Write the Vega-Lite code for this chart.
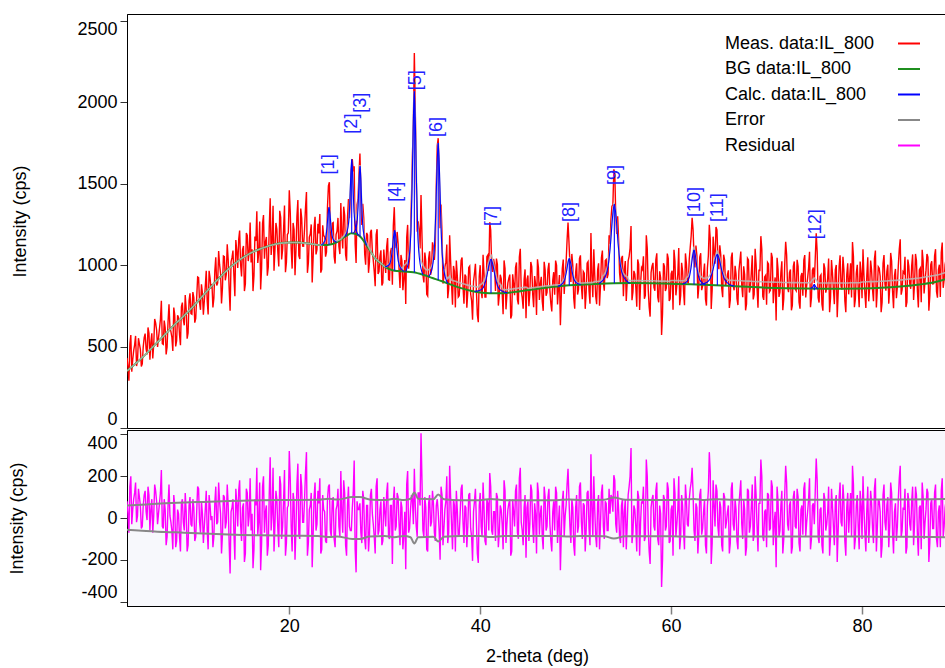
{
"$schema":"https://vega.github.io/schema/vega-lite/v6.json",
"background":"white",
"padding":{"left":7,"top":13,"right":0,"bottom":0},
"spacing":0,
"config":{"font":"Liberation Sans","view":{"stroke":"#000","strokeWidth":1},
"axis":{"labelFont":"Liberation Sans","titleFont":"Liberation Sans","labelFontSize":18,"titleFontSize":18,"titleFontWeight":"normal","labelColor":"#000","titleColor":"#000","domainColor":"#000","tickColor":"#333","grid":false,"tickSize":7,"labelPadding":3}},
"resolve":{"scale":{"color":"independent"},"legend":{"color":"independent"}},
"datasets":{
"xrd":[
{"t":3.0,"m":430,"r":80,"c":350},{"t":3.2,"m":290,"r":-70,"c":360},{"t":3.4,"m":570,"r":200,"c":370},{"t":3.6,"m":420,"r":40,"c":380},{"t":3.8,"m":510,"r":120,"c":390},
{"t":4.0,"m":380,"r":-20,"c":400},{"t":4.2,"m":551,"r":140,"c":411},{"t":4.4,"m":482,"r":60,"c":422},{"t":4.6,"m":393,"r":-40,"c":433},{"t":4.8,"m":554,"r":110,"c":444},
{"t":5.0,"m":485,"r":30,"c":455},{"t":5.2,"m":617,"r":150,"c":467},{"t":5.4,"m":419,"r":-60,"c":479},{"t":5.6,"m":581,"r":90,"c":491},{"t":5.8,"m":513,"r":10,"c":503},
{"t":6.0,"m":645,"r":130,"c":515},{"t":6.2,"m":497,"r":-30,"c":527},{"t":6.4,"m":609,"r":70,"c":539},{"t":6.6,"m":781,"r":230,"c":551},{"t":6.8,"m":513,"r":-50,"c":563},
{"t":7.0,"m":615,"r":40,"c":575},{"t":7.2,"m":497,"r":-90,"c":587},{"t":7.4,"m":759,"r":160,"c":599},{"t":7.6,"m":591,"r":-20,"c":611},{"t":7.8,"m":473,"r":-150,"c":623},
{"t":8.0,"m":695,"r":60,"c":635},{"t":8.2,"m":536,"r":-110,"c":646},{"t":8.4,"m":677,"r":20,"c":657},{"t":8.6,"m":508,"r":-160,"c":668},{"t":8.8,"m":769,"r":90,"c":679},
{"t":9.0,"m":630,"r":-60,"c":690},{"t":9.2,"m":732,"r":30,"c":702},{"t":9.4,"m":584,"r":-130,"c":714},{"t":9.6,"m":826,"r":100,"c":726},{"t":9.8,"m":698,"r":-40,"c":738},
{"t":10.0,"m":800,"r":50,"c":750},{"t":10.2,"m":673,"r":-90,"c":763},{"t":10.4,"m":926,"r":150,"c":776},{"t":10.6,"m":769,"r":-20,"c":789},{"t":10.8,"m":882,"r":80,"c":802},
{"t":11.0,"m":695,"r":-120,"c":815},{"t":11.2,"m":868,"r":40,"c":828},{"t":11.4,"m":781,"r":-60,"c":841},{"t":11.6,"m":964,"r":110,"c":854},{"t":11.8,"m":857,"r":-10,"c":867},
{"t":12.0,"m":740,"r":-140,"c":880},{"t":12.2,"m":962,"r":70,"c":892},{"t":12.4,"m":874,"r":-30,"c":904},{"t":12.6,"m":1086,"r":170,"c":916},{"t":12.8,"m":948,"r":20,"c":928},
{"t":13.0,"m":860,"r":-80,"c":940},{"t":13.2,"m":1051,"r":100,"c":951},{"t":13.4,"m":942,"r":-20,"c":962},{"t":13.6,"m":1033,"r":60,"c":973},{"t":13.8,"m":719,"r":-265,"c":984},
{"t":14.0,"m":1045,"r":50,"c":995},{"t":14.2,"m":934,"r":-70,"c":1004},{"t":14.4,"m":1153,"r":140,"c":1013},{"t":14.6,"m":982,"r":-40,"c":1022},{"t":14.8,"m":1211,"r":180,"c":1031},
{"t":15.0,"m":930,"r":-110,"c":1040},{"t":15.2,"m":1117,"r":70,"c":1047},{"t":15.4,"m":884,"r":-170,"c":1054},{"t":15.6,"m":1181,"r":120,"c":1061},{"t":15.8,"m":1078,"r":10,"c":1068},
{"t":16.0,"m":1015,"r":-60,"c":1075},{"t":16.2,"m":840,"r":-240,"c":1080},{"t":16.4,"m":1175,"r":90,"c":1085},{"t":16.6,"m":1330,"r":240,"c":1090},{"t":16.8,"m":1075,"r":-20,"c":1095},
{"t":17.0,"m":850,"r":-250,"c":1100},{"t":17.2,"m":1254,"r":150,"c":1104},{"t":17.4,"m":1038,"r":-70,"c":1108},{"t":17.6,"m":1172,"r":60,"c":1112},{"t":17.8,"m":986,"r":-130,"c":1116},
{"t":18.0,"m":1410,"r":290,"c":1120},{"t":18.2,"m":1143,"r":20,"c":1123},{"t":18.4,"m":965,"r":-160,"c":1125},{"t":18.6,"m":1258,"r":130,"c":1128},{"t":18.8,"m":1080,"r":-50,"c":1130},
{"t":19.0,"m":1333,"r":200,"c":1133},{"t":19.2,"m":1034,"r":-100,"c":1134},{"t":19.4,"m":1215,"r":80,"c":1135},{"t":19.6,"m":956,"r":-180,"c":1136},{"t":19.8,"m":1187,"r":50,"c":1137},
{"t":20.0,"m":1458,"r":320,"c":1138},{"t":20.2,"m":1098,"r":-40,"c":1138},{"t":20.4,"m":1258,"r":120,"c":1138},{"t":20.6,"m":938,"r":-200,"c":1138},{"t":20.8,"m":1298,"r":160,"c":1138},
{"t":21.0,"m":1058,"r":-80,"c":1138},{"t":21.2,"m":1347,"r":210,"c":1137},{"t":21.4,"m":1116,"r":-20,"c":1136},{"t":21.6,"m":1224,"r":90,"c":1134},{"t":21.8,"m":1448,"r":315,"c":1133},
{"t":22.0,"m":1012,"r":-120,"c":1132},{"t":22.2,"m":1190,"r":60,"c":1130},{"t":22.4,"m":893,"r":-235,"c":1128},{"t":22.6,"m":1227,"r":100,"c":1127},{"t":22.8,"m":1065,"r":-60,"c":1125},
{"t":23.0,"m":1253,"r":130,"c":1123},{"t":23.2,"m":1313,"r":190,"c":1123},{"t":23.4,"m":973,"r":-150,"c":1123},{"t":23.6,"m":1179,"r":40,"c":1139},{"t":23.8,"m":1051,"r":-110,"c":1161},
{"t":24.0,"m":1354,"r":90,"c":1264},{"t":24.2,"m":1508,"r":160,"c":1348},{"t":24.4,"m":1126,"r":-90,"c":1216},{"t":24.6,"m":1260,"r":100,"c":1160},{"t":24.8,"m":1009,"r":-140,"c":1149},
{"t":25.0,"m":1208,"r":60,"c":1148},{"t":25.2,"m":1113,"r":-40,"c":1153},{"t":25.4,"m":1381,"r":225,"c":1158},{"t":25.6,"m":1102,"r":-70,"c":1172},{"t":25.8,"m":1306,"r":120,"c":1186},
{"t":26.0,"m":1026,"r":-180,"c":1206},{"t":26.2,"m":1404,"r":150,"c":1254},{"t":26.4,"m":1413,"r":-60,"c":1473},{"t":26.6,"m":1650,"r":45,"c":1605},{"t":26.8,"m":1606,"r":275,"c":1331},
{"t":27.0,"m":1012,"r":-260,"c":1272},{"t":27.2,"m":1404,"r":40,"c":1364},{"t":27.4,"m":1684,"r":70,"c":1614},{"t":27.6,"m":1245,"r":-120,"c":1365},{"t":27.8,"m":1288,"r":90,"c":1198},
{"t":28.0,"m":1002,"r":-150,"c":1152},{"t":28.2,"m":1184,"r":60,"c":1124},{"t":28.4,"m":1020,"r":-80,"c":1100},{"t":28.6,"m":1216,"r":140,"c":1076},{"t":28.8,"m":1028,"r":-30,"c":1058},
{"t":29.0,"m":870,"r":-170,"c":1040},{"t":29.2,"m":1220,"r":190,"c":1030},{"t":29.4,"m":960,"r":-60,"c":1020},{"t":29.6,"m":1090,"r":80,"c":1010},{"t":29.8,"m":890,"r":-110,"c":1000},
{"t":30.0,"m":1020,"r":30,"c":990},{"t":30.2,"m":1110,"r":120,"c":990},{"t":30.4,"m":911,"r":-90,"c":1001},{"t":30.6,"m":1080,"r":60,"c":1020},{"t":30.8,"m":879,"r":-220,"c":1099},
{"t":31.0,"m":1355,"r":150,"c":1205},{"t":31.2,"m":1103,"r":-40,"c":1143},{"t":31.4,"m":1130,"r":100,"c":1030},{"t":31.6,"m":859,"r":-130,"c":989},{"t":31.8,"m":1026,"r":50,"c":976},
{"t":32.0,"m":917,"r":-80,"c":997},{"t":32.2,"m":761,"r":-245,"c":1006},{"t":32.4,"m":1246,"r":225,"c":1021},{"t":32.6,"m":1040,"r":-50,"c":1090},{"t":32.8,"m":1411,"r":110,"c":1301},
{"t":33.0,"m":1870,"r":-30,"c":1900},{"t":33.1,"m":2301,"r":235,"c":2066},{"t":33.2,"m":1957,"r":60,"c":1897},{"t":33.4,"m":1204,"r":-90,"c":1294},{"t":33.6,"m":1214,"r":120,"c":1094},
{"t":33.8,"m":1429,"r":405,"c":1024},{"t":34.0,"m":939,"r":-60,"c":999},{"t":34.2,"m":1077,"r":100,"c":977},{"t":34.4,"m":820,"r":-150,"c":970},{"t":34.6,"m":1041,"r":70,"c":971},
{"t":34.8,"m":940,"r":-40,"c":980},{"t":35.0,"m":1139,"r":130,"c":1009},{"t":35.2,"m":1031,"r":-70,"c":1101},{"t":35.4,"m":1493,"r":60,"c":1433},{"t":35.6,"m":1778,"r":30,"c":1748},
{"t":35.8,"m":1225,"r":-200,"c":1425},{"t":36.0,"m":1195,"r":110,"c":1085},{"t":36.2,"m":926,"r":-50,"c":976},{"t":36.4,"m":1016,"r":80,"c":936},{"t":36.6,"m":796,"r":-120,"c":916},
{"t":36.8,"m":1182,"r":250,"c":932},{"t":37.0,"m":878,"r":-30,"c":908},{"t":37.2,"m":994,"r":90,"c":904},{"t":37.4,"m":740,"r":-160,"c":900},{"t":37.6,"m":936,"r":40,"c":896},
{"t":37.8,"m":812,"r":-80,"c":892},{"t":38.0,"m":1028,"r":140,"c":888},{"t":38.2,"m":865,"r":-20,"c":885},{"t":38.4,"m":942,"r":60,"c":882},{"t":38.6,"m":738,"r":-140,"c":878},
{"t":38.8,"m":985,"r":110,"c":875},{"t":39.0,"m":822,"r":-50,"c":872},{"t":39.2,"m":665,"r":-205,"c":870},{"t":39.4,"m":948,"r":80,"c":868},{"t":39.6,"m":846,"r":-20,"c":866},
{"t":39.8,"m":649,"r":-215,"c":864},{"t":40.0,"m":999,"r":120,"c":879},{"t":40.2,"m":796,"r":-90,"c":886},{"t":40.4,"m":950,"r":50,"c":900},{"t":40.6,"m":804,"r":-130,"c":934},
{"t":40.8,"m":1061,"r":70,"c":991},{"t":41.0,"m":1263,"r":215,"c":1048},{"t":41.2,"m":999,"r":-60,"c":1059},{"t":41.4,"m":1037,"r":30,"c":1007},{"t":41.6,"m":840,"r":-110,"c":950},
{"t":41.8,"m":1004,"r":100,"c":904},{"t":42.0,"m":815,"r":-70,"c":885},{"t":42.2,"m":916,"r":40,"c":876},{"t":42.4,"m":698,"r":-150,"c":848},{"t":42.6,"m":978,"r":130,"c":848},
{"t":42.8,"m":819,"r":-30,"c":849},{"t":43.0,"m":920,"r":70,"c":850},{"t":43.2,"m":672,"r":-180,"c":852},{"t":43.4,"m":943,"r":90,"c":853},{"t":43.6,"m":815,"r":-40,"c":855},
{"t":43.8,"m":1016,"r":160,"c":856},{"t":44.0,"m":758,"r":-100,"c":858},{"t":44.2,"m":1100,"r":240,"c":860},{"t":44.4,"m":801,"r":-60,"c":861},{"t":44.6,"m":913,"r":50,"c":863},
{"t":44.8,"m":674,"r":-190,"c":864},{"t":45.0,"m":936,"r":80,"c":856},{"t":45.2,"m":828,"r":-30,"c":858},{"t":45.4,"m":990,"r":130,"c":860},{"t":45.6,"m":741,"r":-120,"c":861},
{"t":45.8,"m":883,"r":20,"c":863},{"t":46.0,"m":1035,"r":170,"c":865},{"t":46.2,"m":786,"r":-80,"c":866},{"t":46.4,"m":928,"r":60,"c":868},{"t":46.6,"m":719,"r":-150,"c":869},
{"t":46.8,"m":971,"r":100,"c":871},{"t":47.0,"m":832,"r":-40,"c":872},{"t":47.2,"m":1013,"r":140,"c":873},{"t":47.4,"m":764,"r":-110,"c":874},{"t":47.6,"m":906,"r":30,"c":876},
{"t":47.8,"m":817,"r":-60,"c":877},{"t":48.0,"m":998,"r":120,"c":878},{"t":48.2,"m":859,"r":-20,"c":879},{"t":48.4,"m":630,"r":-250,"c":880},{"t":48.6,"m":978,"r":80,"c":898},
{"t":48.8,"m":823,"r":-90,"c":913},{"t":49.0,"m":1018,"r":60,"c":958},{"t":49.2,"m":1260,"r":235,"c":1025},{"t":49.4,"m":1003,"r":-40,"c":1043},{"t":49.6,"m":1068,"r":90,"c":978},
{"t":49.8,"m":797,"r":-130,"c":927},{"t":50.0,"m":956,"r":50,"c":906},{"t":50.2,"m":819,"r":-70,"c":889},{"t":50.4,"m":1039,"r":150,"c":889},{"t":50.6,"m":870,"r":-20,"c":890},
{"t":50.8,"m":960,"r":70,"c":890},{"t":51.0,"m":731,"r":-160,"c":891},{"t":51.2,"m":1011,"r":120,"c":891},{"t":51.4,"m":842,"r":-50,"c":892},{"t":51.6,"m":1197,"r":305,"c":892},
{"t":51.8,"m":803,"r":-90,"c":893},{"t":52.0,"m":939,"r":40,"c":899},{"t":52.2,"m":759,"r":-140,"c":899},{"t":52.4,"m":1010,"r":110,"c":900},{"t":52.6,"m":870,"r":-30,"c":900},
{"t":52.8,"m":1089,"r":160,"c":929},{"t":53.0,"m":842,"r":-100,"c":942},{"t":53.2,"m":1034,"r":70,"c":964},{"t":53.4,"m":944,"r":-60,"c":1004},{"t":53.6,"m":1130,"r":20,"c":1110},
{"t":53.8,"m":1361,"r":100,"c":1261},{"t":54.0,"m":1587,"r":205,"c":1382},{"t":54.2,"m":1304,"r":-30,"c":1334},{"t":54.4,"m":1299,"r":130,"c":1169},{"t":54.6,"m":953,"r":-90,"c":1043},
{"t":54.8,"m":1040,"r":60,"c":980},{"t":55.0,"m":809,"r":-140,"c":949},{"t":55.2,"m":1024,"r":90,"c":934},{"t":55.4,"m":897,"r":-30,"c":927},{"t":55.6,"m":1053,"r":150,"c":903},
{"t":55.8,"m":1239,"r":335,"c":904},{"t":56.0,"m":834,"r":-70,"c":904},{"t":56.2,"m":944,"r":40,"c":904},{"t":56.4,"m":744,"r":-160,"c":904},{"t":56.6,"m":1004,"r":100,"c":904},
{"t":56.8,"m":884,"r":-20,"c":904},{"t":57.0,"m":973,"r":70,"c":903},{"t":57.2,"m":793,"r":-110,"c":903},{"t":57.4,"m":1183,"r":280,"c":903},{"t":57.6,"m":853,"r":-50,"c":903},
{"t":57.8,"m":683,"r":-220,"c":903},{"t":58.0,"m":993,"r":90,"c":903},{"t":58.2,"m":863,"r":-40,"c":903},{"t":58.4,"m":1032,"r":130,"c":902},{"t":58.6,"m":802,"r":-100,"c":902},
{"t":58.8,"m":961,"r":60,"c":901},{"t":59.0,"m":571,"r":-330,"c":901},{"t":59.2,"m":1011,"r":110,"c":901},{"t":59.4,"m":841,"r":-60,"c":901},{"t":59.6,"m":1070,"r":170,"c":900},
{"t":59.8,"m":780,"r":-120,"c":900},{"t":60.0,"m":945,"r":40,"c":905},{"t":60.2,"m":725,"r":-180,"c":905},{"t":60.4,"m":1024,"r":120,"c":904},{"t":60.6,"m":874,"r":-30,"c":904},
{"t":60.8,"m":1104,"r":200,"c":904},{"t":61.0,"m":813,"r":-90,"c":903},{"t":61.2,"m":963,"r":60,"c":903},{"t":61.4,"m":753,"r":-150,"c":903},{"t":61.6,"m":1010,"r":90,"c":920},
{"t":61.8,"m":892,"r":-40,"c":932},{"t":62.0,"m":1107,"r":140,"c":967},{"t":62.2,"m":1290,"r":240,"c":1050},{"t":62.4,"m":1052,"r":-60,"c":1112},{"t":62.6,"m":1119,"r":70,"c":1049},
{"t":62.8,"m":795,"r":-170,"c":965},{"t":63.0,"m":1048,"r":110,"c":938},{"t":63.2,"m":846,"r":-80,"c":926},{"t":63.4,"m":949,"r":30,"c":919},{"t":63.6,"m":790,"r":-130,"c":920},
{"t":63.8,"m":982,"r":60,"c":922},{"t":64.0,"m":1247,"r":315,"c":932},{"t":64.2,"m":730,"r":-220,"c":950},{"t":64.4,"m":1174,"r":180,"c":994},{"t":64.6,"m":1008,"r":-40,"c":1048},
{"t":64.8,"m":1216,"r":130,"c":1086},{"t":65.0,"m":974,"r":-90,"c":1064},{"t":65.2,"m":1063,"r":50,"c":1013},{"t":65.4,"m":802,"r":-160,"c":962},{"t":65.6,"m":1032,"r":100,"c":932},
{"t":65.8,"m":896,"r":-20,"c":916},{"t":66.0,"m":967,"r":60,"c":907},{"t":66.2,"m":786,"r":-120,"c":906},{"t":66.4,"m":1076,"r":170,"c":906},{"t":66.6,"m":845,"r":-60,"c":905},
{"t":66.8,"m":945,"r":40,"c":905},{"t":67.0,"m":754,"r":-150,"c":904},{"t":67.2,"m":1023,"r":120,"c":903},{"t":67.4,"m":873,"r":-30,"c":903},{"t":67.6,"m":992,"r":90,"c":902},
{"t":67.8,"m":722,"r":-180,"c":902},{"t":68.0,"m":1041,"r":140,"c":901},{"t":68.2,"m":831,"r":-70,"c":901},{"t":68.4,"m":950,"r":50,"c":900},{"t":68.6,"m":789,"r":-110,"c":899},
{"t":68.8,"m":1099,"r":200,"c":899},{"t":69.0,"m":858,"r":-40,"c":898},{"t":69.2,"m":968,"r":70,"c":898},{"t":69.4,"m":1177,"r":280,"c":897},{"t":69.6,"m":807,"r":-90,"c":897},
{"t":69.8,"m":926,"r":30,"c":896},{"t":70.0,"m":756,"r":-140,"c":896},{"t":70.2,"m":1006,"r":110,"c":896},{"t":70.4,"m":845,"r":-50,"c":895},{"t":70.6,"m":1045,"r":150,"c":895},
{"t":70.8,"m":875,"r":-20,"c":895},{"t":71.0,"m":659,"r":-235,"c":894},{"t":71.2,"m":974,"r":80,"c":894},{"t":71.4,"m":834,"r":-60,"c":894},{"t":71.6,"m":1023,"r":130,"c":893},
{"t":71.8,"m":793,"r":-100,"c":893},{"t":72.0,"m":1143,"r":250,"c":893},{"t":72.2,"m":863,"r":-30,"c":893},{"t":72.4,"m":953,"r":60,"c":893},{"t":72.6,"m":722,"r":-170,"c":892},
{"t":72.8,"m":992,"r":100,"c":892},{"t":73.0,"m":852,"r":-40,"c":892},{"t":73.2,"m":1032,"r":140,"c":892},{"t":73.4,"m":772,"r":-120,"c":892},{"t":73.6,"m":931,"r":40,"c":891},
{"t":73.8,"m":811,"r":-80,"c":891},{"t":74.0,"m":1061,"r":170,"c":891},{"t":74.2,"m":871,"r":-20,"c":891},{"t":74.4,"m":981,"r":90,"c":891},{"t":74.6,"m":741,"r":-150,"c":891},
{"t":74.8,"m":969,"r":60,"c":909},{"t":75.0,"m":890,"r":-30,"c":920},{"t":75.2,"m":1194,"r":285,"c":909},{"t":75.4,"m":800,"r":-90,"c":890},{"t":75.6,"m":930,"r":40,"c":890},
{"t":75.8,"m":760,"r":-130,"c":890},{"t":76.0,"m":1010,"r":120,"c":890},{"t":76.2,"m":830,"r":-60,"c":890},{"t":76.4,"m":920,"r":30,"c":890},{"t":76.6,"m":710,"r":-180,"c":890},
{"t":76.8,"m":1030,"r":140,"c":890},{"t":77.0,"m":850,"r":-40,"c":890},{"t":77.2,"m":970,"r":80,"c":890},{"t":77.4,"m":680,"r":-210,"c":890},{"t":77.6,"m":990,"r":100,"c":890},
{"t":77.8,"m":870,"r":-20,"c":890},{"t":78.0,"m":1050,"r":160,"c":890},{"t":78.2,"m":780,"r":-110,"c":890},{"t":78.4,"m":940,"r":50,"c":890},{"t":78.6,"m":820,"r":-70,"c":890},
{"t":78.8,"m":1011,"r":120,"c":891},{"t":79.0,"m":1141,"r":250,"c":891},{"t":79.2,"m":741,"r":-150,"c":891},{"t":79.4,"m":951,"r":60,"c":891},{"t":79.6,"m":851,"r":-40,"c":891},
{"t":79.8,"m":1021,"r":130,"c":891},{"t":80.0,"m":796,"r":-100,"c":896},{"t":80.2,"m":936,"r":40,"c":896},{"t":80.4,"m":737,"r":-160,"c":897},{"t":80.6,"m":1047,"r":150,"c":897},
{"t":80.8,"m":868,"r":-30,"c":898},{"t":81.0,"m":968,"r":70,"c":898},{"t":81.2,"m":778,"r":-120,"c":898},{"t":81.4,"m":1089,"r":190,"c":899},{"t":81.6,"m":849,"r":-50,"c":899},
{"t":81.8,"m":980,"r":80,"c":900},{"t":82.0,"m":710,"r":-190,"c":900},{"t":82.2,"m":1011,"r":110,"c":901},{"t":82.4,"m":882,"r":-20,"c":902},{"t":82.6,"m":962,"r":60,"c":902},
{"t":82.8,"m":763,"r":-140,"c":903},{"t":83.0,"m":1074,"r":170,"c":904},{"t":83.2,"m":835,"r":-70,"c":905},{"t":83.4,"m":936,"r":30,"c":906},{"t":83.6,"m":796,"r":-110,"c":906},
{"t":83.8,"m":997,"r":90,"c":907},{"t":84.0,"m":1158,"r":250,"c":908},{"t":84.2,"m":849,"r":-60,"c":909},{"t":84.4,"m":950,"r":40,"c":910},{"t":84.6,"m":742,"r":-170,"c":912},
{"t":84.8,"m":1033,"r":120,"c":913},{"t":85.0,"m":884,"r":-30,"c":914},{"t":85.2,"m":995,"r":80,"c":915},{"t":85.4,"m":786,"r":-130,"c":916},{"t":85.6,"m":1068,"r":150,"c":918},
{"t":85.8,"m":839,"r":-80,"c":919},{"t":86.0,"m":970,"r":50,"c":920},{"t":86.2,"m":772,"r":-150,"c":922},{"t":86.4,"m":1024,"r":100,"c":924},{"t":86.6,"m":906,"r":-20,"c":926},
{"t":86.8,"m":1068,"r":140,"c":928},{"t":87.0,"m":720,"r":-210,"c":930},{"t":87.2,"m":1002,"r":70,"c":932},{"t":87.4,"m":884,"r":-50,"c":934},{"t":87.6,"m":1056,"r":120,"c":936},
{"t":87.8,"m":838,"r":-100,"c":938},{"t":88.0,"m":970,"r":30,"c":940},{"t":88.2,"m":804,"r":-140,"c":944},{"t":88.4,"m":1138,"r":190,"c":948},{"t":88.6,"m":911,"r":-40,"c":951},
{"t":88.8,"m":1035,"r":80,"c":955},
{"t":3.1,"m":375,"r":20},{"t":3.3,"m":515,"r":150},{"t":3.5,"m":345,"r":-30},{"t":3.7,"m":475,"r":90},{"t":3.9,"m":565,"r":170},{"t":4.1,"m":415,"r":10},{"t":4.3,"m":516,"r":100},{"t":4.5,"m":377,"r":-50},{"t":4.7,"m":498,"r":60},{"t":4.9,"m":579,"r":130},
{"t":5.1,"m":451,"r":-10},{"t":5.3,"m":583,"r":110},{"t":5.5,"m":525,"r":40},{"t":5.7,"m":427,"r":-70},{"t":5.9,"m":669,"r":160},{"t":6.1,"m":601,"r":80},{"t":6.3,"m":553,"r":20},{"t":6.5,"m":665,"r":120},{"t":6.7,"m":517,"r":-40},{"t":6.9,"m":659,"r":90},
{"t":7.1,"m":451,"r":-130},{"t":7.3,"m":653,"r":60},{"t":7.5,"m":615,"r":10},{"t":7.7,"m":557,"r":-60},{"t":7.9,"m":739,"r":110},{"t":8.1,"m":500,"r":-140},{"t":8.3,"m":691,"r":40},{"t":8.5,"m":572,"r":-90},{"t":8.7,"m":743,"r":70},{"t":8.9,"m":664,"r":-20},
{"t":9.1,"m":816,"r":120},{"t":9.3,"m":548,"r":-160},{"t":9.5,"m":780,"r":60},{"t":9.7,"m":702,"r":-30},{"t":9.9,"m":834,"r":90},{"t":10.1,"m":646,"r":-110},{"t":10.3,"m":799,"r":30},{"t":10.5,"m":922,"r":140},{"t":10.7,"m":725,"r":-70},{"t":10.9,"m":828,"r":20},
{"t":11.1,"m":781,"r":-40},{"t":11.3,"m":964,"r":130},{"t":11.5,"m":697,"r":-150},{"t":11.7,"m":920,"r":60},{"t":11.9,"m":883,"r":10},{"t":12.1,"m":796,"r":-90},{"t":12.3,"m":1048,"r":150},{"t":12.5,"m":890,"r":-20},{"t":12.7,"m":1002,"r":80},{"t":12.9,"m":764,"r":-170},
{"t":13.1,"m":1055,"r":110},{"t":13.3,"m":906,"r":-50},{"t":13.5,"m":1127,"r":160},{"t":13.7,"m":858,"r":-120},{"t":13.9,"m":1019,"r":30},{"t":14.1,"m":1089,"r":90},{"t":14.3,"m":808,"r":-200},{"t":14.5,"m":1087,"r":70},{"t":14.7,"m":1156,"r":130},{"t":14.9,"m":1005,"r":-30},
{"t":15.1,"m":1093,"r":50},{"t":15.3,"m":840,"r":-210},{"t":15.5,"m":1197,"r":140},{"t":15.7,"m":1024,"r":-40},{"t":15.9,"m":1261,"r":190},{"t":16.1,"m":1097,"r":20},{"t":16.3,"m":932,"r":-150},{"t":16.5,"m":1147,"r":60},{"t":16.7,"m":1012,"r":-80},{"t":16.9,"m":1267,"r":170},
{"t":17.1,"m":982,"r":-120},{"t":17.3,"m":1306,"r":200},{"t":17.5,"m":1140,"r":30},{"t":17.7,"m":934,"r":-180},{"t":17.9,"m":1228,"r":110},{"t":18.1,"m":1061,"r":-60},{"t":18.3,"m":1364,"r":240},{"t":18.5,"m":1096,"r":-30},{"t":18.7,"m":1219,"r":90},{"t":18.9,"m":991,"r":-140},
{"t":19.1,"m":1293,"r":160},{"t":19.3,"m":1094,"r":-40},{"t":19.5,"m":1365,"r":230},{"t":19.7,"m":1016,"r":-120},{"t":19.9,"m":1197,"r":60},{"t":20.1,"m":1328,"r":190},{"t":20.3,"m":978,"r":-160},{"t":20.5,"m":1218,"r":80},{"t":20.7,"m":1088,"r":-50},{"t":20.9,"m":1398,"r":260},
{"t":21.1,"m":1037,"r":-100},{"t":21.3,"m":1286,"r":150},{"t":21.5,"m":1115,"r":-20},{"t":21.7,"m":1353,"r":220},{"t":21.9,"m":952,"r":-180},{"t":22.1,"m":1171,"r":40},{"t":22.3,"m":1249,"r":120},{"t":22.5,"m":1047,"r":-80},{"t":22.7,"m":1296,"r":170},{"t":22.9,"m":1094,"r":-30},
{"t":23.1,"m":1193,"r":70},{"t":23.3,"m":953,"r":-170},{"t":23.5,"m":1244,"r":110},{"t":23.7,"m":1176,"r":30},{"t":23.9,"m":1080,"r":-120},{"t":24.1,"m":1486,"r":150},{"t":24.3,"m":1226,"r":-60},{"t":24.5,"m":1255,"r":80},{"t":24.7,"m":1051,"r":-100},{"t":24.9,"m":1187,"r":40},
{"t":25.1,"m":1289,"r":140},{"t":25.3,"m":1067,"r":-90},{"t":25.5,"m":1196,"r":30},{"t":25.7,"m":1358,"r":180},{"t":25.9,"m":1064,"r":-130},{"t":26.1,"m":1289,"r":60},{"t":26.3,"m":1287,"r":-40},{"t":26.5,"m":1579,"r":-60},{"t":26.7,"m":1574,"r":120},{"t":26.9,"m":1131,"r":-150},
{"t":27.1,"m":1369,"r":80},{"t":27.3,"m":1556,"r":40},{"t":27.5,"m":1459,"r":-70},{"t":27.7,"m":1375,"r":130},{"t":27.9,"m":1068,"r":-100},{"t":28.1,"m":1197,"r":60},{"t":28.3,"m":952,"r":-160},{"t":28.5,"m":1200,"r":110},{"t":28.7,"m":1087,"r":20},{"t":28.9,"m":959,"r":-90},
{"t":29.1,"m":1185,"r":150},{"t":29.3,"m":945,"r":-80},{"t":29.5,"m":1055,"r":40},{"t":29.7,"m":875,"r":-130},{"t":29.9,"m":1095,"r":100},{"t":30.1,"m":951,"r":-40},{"t":30.3,"m":1165,"r":170},{"t":30.5,"m":908,"r":-100},{"t":30.7,"m":1105,"r":60},{"t":30.9,"m":1244,"r":80},
{"t":31.1,"m":1141,"r":-60},{"t":31.3,"m":1203,"r":120},{"t":31.5,"m":973,"r":-30},{"t":31.7,"m":1062,"r":80},{"t":31.9,"m":845,"r":-150},{"t":32.1,"m":1031,"r":30},{"t":32.3,"m":1169,"r":160},{"t":32.5,"m":977,"r":-70},{"t":32.7,"m":1197,"r":40},{"t":32.9,"m":1669,"r":90},
{"t":33.3,"m":1534,"r":-40},{"t":33.5,"m":1268,"r":120},{"t":33.7,"m":1102,"r":60},{"t":33.9,"m":1182,"r":180},{"t":34.1,"m":893,"r":-90},{"t":34.3,"m":1023,"r":50},{"t":34.5,"m":810,"r":-160},{"t":34.7,"m":1084,"r":110},{"t":34.9,"m":967,"r":-20},
{"t":35.1,"m":1114,"r":70},{"t":35.3,"m":1123,"r":-110},{"t":35.5,"m":1731,"r":90},{"t":35.7,"m":1577,"r":-60},{"t":35.9,"m":1371,"r":150},{"t":36.1,"m":886,"r":-130},{"t":36.3,"m":988,"r":40},{"t":36.5,"m":1125,"r":200},{"t":36.7,"m":853,"r":-70},{"t":36.9,"m":1027,"r":100},
{"t":37.1,"m":756,"r":-150},{"t":37.3,"m":962,"r":60},{"t":37.5,"m":1028,"r":130},{"t":37.7,"m":804,"r":-90},{"t":37.9,"m":910,"r":20},{"t":38.1,"m":1046,"r":160},{"t":38.3,"m":763,"r":-120},{"t":38.5,"m":930,"r":50},{"t":38.7,"m":836,"r":-40},{"t":38.9,"m":993,"r":120},
{"t":39.1,"m":781,"r":-90},{"t":39.3,"m":899,"r":30},{"t":39.5,"m":1007,"r":140},{"t":39.7,"m":695,"r":-170},{"t":39.9,"m":931,"r":60},{"t":40.1,"m":842,"r":-40},{"t":40.3,"m":1063,"r":170},{"t":40.5,"m":804,"r":-110},{"t":40.7,"m":1051,"r":90},{"t":40.9,"m":964,"r":-60},
{"t":41.1,"m":1215,"r":150},{"t":41.3,"m":958,"r":-80},{"t":41.5,"m":1002,"r":30},{"t":41.7,"m":1040,"r":120},{"t":41.9,"m":751,"r":-140},{"t":42.1,"m":940,"r":60},{"t":42.3,"m":830,"r":-30},{"t":42.5,"m":1028,"r":180},{"t":42.7,"m":728,"r":-120},{"t":42.9,"m":890,"r":40},
{"t":43.1,"m":941,"r":90},{"t":43.3,"m":692,"r":-160},{"t":43.5,"m":884,"r":30},{"t":43.7,"m":985,"r":130},{"t":43.9,"m":787,"r":-70},{"t":44.1,"m":1049,"r":190},{"t":44.3,"m":840,"r":-20},{"t":44.5,"m":732,"r":-130},{"t":44.7,"m":973,"r":110},{"t":44.9,"m":910,"r":50},
{"t":45.1,"m":747,"r":-110},{"t":45.3,"m":1019,"r":160},{"t":45.5,"m":820,"r":-40},{"t":45.7,"m":932,"r":70},{"t":45.9,"m":694,"r":-170},{"t":46.1,"m":985,"r":120},{"t":46.3,"m":887,"r":20},{"t":46.5,"m":778,"r":-90},{"t":46.7,"m":1020,"r":150},{"t":46.9,"m":811,"r":-60},
{"t":47.1,"m":972,"r":100},{"t":47.3,"m":843,"r":-30},{"t":47.5,"m":715,"r":-160},{"t":47.7,"m":956,"r":80},{"t":47.9,"m":1027,"r":150},{"t":48.1,"m":758,"r":-120},{"t":48.3,"m":939,"r":60},{"t":48.5,"m":822,"r":-70},{"t":48.7,"m":1033,"r":130},{"t":48.9,"m":938,"r":10},
{"t":49.1,"m":1151,"r":160},{"t":49.3,"m":1140,"r":90},{"t":49.5,"m":896,"r":-120},{"t":49.7,"m":996,"r":50},{"t":49.9,"m":732,"r":-180},{"t":50.1,"m":1011,"r":110},{"t":50.3,"m":849,"r":-40},{"t":50.5,"m":1059,"r":170},{"t":50.7,"m":790,"r":-100},{"t":50.9,"m":950,"r":60},
{"t":51.1,"m":831,"r":-60},{"t":51.3,"m":1021,"r":130},{"t":51.5,"m":762,"r":-130},{"t":51.7,"m":932,"r":40},{"t":51.9,"m":1096,"r":200},{"t":52.1,"m":809,"r":-90},{"t":52.3,"m":969,"r":70},{"t":52.5,"m":750,"r":-150},{"t":52.7,"m":1044,"r":120},{"t":52.9,"m":892,"r":-40},
{"t":53.1,"m":1027,"r":80},{"t":53.3,"m":919,"r":-60},{"t":53.5,"m":1182,"r":140},{"t":53.7,"m":1283,"r":110},{"t":53.9,"m":1369,"r":30},{"t":54.1,"m":1562,"r":180},{"t":54.3,"m":1191,"r":-70},{"t":54.5,"m":1151,"r":40},{"t":54.7,"m":885,"r":-120},{"t":54.9,"m":1056,"r":90},
{"t":55.1,"m":971,"r":30},{"t":55.3,"m":780,"r":-150},{"t":55.5,"m":1025,"r":110},{"t":55.7,"m":1104,"r":200},{"t":55.9,"m":784,"r":-120},{"t":56.1,"m":964,"r":60},{"t":56.3,"m":864,"r":-40},{"t":56.5,"m":1034,"r":130},{"t":56.7,"m":724,"r":-180},{"t":56.9,"m":984,"r":80},
{"t":57.1,"m":1053,"r":150},{"t":57.3,"m":813,"r":-90},{"t":57.5,"m":1103,"r":200},{"t":57.7,"m":743,"r":-160},{"t":57.9,"m":953,"r":50},{"t":58.1,"m":1013,"r":110},{"t":58.3,"m":842,"r":-60},{"t":58.5,"m":1072,"r":170},{"t":58.7,"m":771,"r":-130},{"t":58.9,"m":921,"r":20},
{"t":59.1,"m":701,"r":-200},{"t":59.3,"m":991,"r":90},{"t":59.5,"m":860,"r":-40},{"t":59.7,"m":1040,"r":140},{"t":59.9,"m":792,"r":-110},{"t":60.1,"m":965,"r":60},{"t":60.3,"m":1094,"r":190},{"t":60.5,"m":814,"r":-90},{"t":60.7,"m":944,"r":40},{"t":60.9,"m":753,"r":-150},
{"t":61.1,"m":1013,"r":110},{"t":61.3,"m":843,"r":-60},{"t":61.5,"m":1071,"r":160},{"t":61.7,"m":895,"r":-30},{"t":61.9,"m":1036,"r":90},{"t":62.1,"m":1178,"r":170},{"t":62.3,"m":1216,"r":120},{"t":62.5,"m":985,"r":-110},{"t":62.7,"m":1056,"r":50},{"t":62.9,"m":864,"r":-80},
{"t":63.1,"m":1072,"r":140},{"t":63.3,"m":872,"r":-50},{"t":63.5,"m":1009,"r":90},{"t":63.7,"m":751,"r":-170},{"t":63.9,"m":1057,"r":130},{"t":64.1,"m":1160,"r":220},{"t":64.3,"m":849,"r":-120},{"t":64.5,"m":1080,"r":60},{"t":64.7,"m":1233,"r":160},{"t":64.9,"m":1043,"r":-40},
{"t":65.1,"m":1121,"r":80},{"t":65.3,"m":857,"r":-130},{"t":65.5,"m":1063,"r":120},{"t":65.7,"m":872,"r":-50},{"t":65.9,"m":941,"r":30},{"t":66.1,"m":736,"r":-170},{"t":66.3,"m":1046,"r":140},{"t":66.5,"m":875,"r":-30},{"t":66.7,"m":995,"r":90},{"t":66.9,"m":794,"r":-110},
{"t":67.1,"m":963,"r":60},{"t":67.3,"m":1083,"r":180},{"t":67.5,"m":802,"r":-100},{"t":67.7,"m":942,"r":40},{"t":67.9,"m":761,"r":-140},{"t":68.1,"m":1031,"r":130},{"t":68.3,"m":860,"r":-40},{"t":68.5,"m":1059,"r":160},{"t":68.7,"m":819,"r":-80},{"t":68.9,"m":1008,"r":110},
{"t":69.1,"m":738,"r":-160},{"t":69.3,"m":967,"r":70},{"t":69.5,"m":1097,"r":200},{"t":69.7,"m":786,"r":-110},{"t":69.9,"m":936,"r":40},{"t":70.1,"m":1016,"r":120},{"t":70.3,"m":835,"r":-60},{"t":70.5,"m":1075,"r":180},{"t":70.7,"m":765,"r":-130},{"t":70.9,"m":924,"r":30},
{"t":71.1,"m":1044,"r":150},{"t":71.3,"m":804,"r":-90},{"t":71.5,"m":953,"r":60},{"t":71.7,"m":723,"r":-170},{"t":71.9,"m":1003,"r":110},{"t":72.1,"m":1063,"r":170},{"t":72.3,"m":833,"r":-60},{"t":72.5,"m":973,"r":80},{"t":72.7,"m":752,"r":-140},{"t":72.9,"m":1022,"r":130},
{"t":73.1,"m":842,"r":-50},{"t":73.3,"m":992,"r":100},{"t":73.5,"m":732,"r":-160},{"t":73.7,"m":951,"r":60},{"t":73.9,"m":1031,"r":140},{"t":74.1,"m":801,"r":-90},{"t":74.3,"m":921,"r":30},{"t":74.5,"m":1081,"r":190},{"t":74.7,"m":800,"r":-100},{"t":74.9,"m":985,"r":70},
{"t":75.1,"m":1045,"r":130},{"t":75.3,"m":1080,"r":180},{"t":75.5,"m":770,"r":-120},{"t":75.7,"m":940,"r":50},{"t":75.9,"m":720,"r":-170},{"t":76.1,"m":980,"r":90},{"t":76.3,"m":860,"r":-30},{"t":76.5,"m":1040,"r":150},{"t":76.7,"m":800,"r":-90},{"t":76.9,"m":950,"r":60},
{"t":77.1,"m":760,"r":-130},{"t":77.3,"m":1000,"r":110},{"t":77.5,"m":830,"r":-60},{"t":77.7,"m":1060,"r":170},{"t":77.9,"m":850,"r":-40},{"t":78.1,"m":970,"r":80},{"t":78.3,"m":710,"r":-180},{"t":78.5,"m":1010,"r":120},{"t":78.7,"m":920,"r":30},{"t":78.9,"m":801,"r":-90},
{"t":79.1,"m":1051,"r":160},{"t":79.3,"m":791,"r":-100},{"t":79.5,"m":1001,"r":110},{"t":79.7,"m":741,"r":-150},{"t":79.9,"m":951,"r":60},{"t":80.1,"m":1096,"r":200},{"t":80.3,"m":826,"r":-70},{"t":80.5,"m":937,"r":40},{"t":80.7,"m":777,"r":-120},{"t":80.9,"m":1028,"r":130},
{"t":81.1,"m":848,"r":-50},{"t":81.3,"m":1038,"r":140},{"t":81.5,"m":739,"r":-160},{"t":81.7,"m":989,"r":90},{"t":81.9,"m":930,"r":30},{"t":82.1,"m":770,"r":-130},{"t":82.3,"m":1061,"r":160},{"t":82.5,"m":842,"r":-60},{"t":82.7,"m":1002,"r":100},{"t":82.9,"m":863,"r":-40},
{"t":83.1,"m":1024,"r":120},{"t":83.3,"m":735,"r":-170},{"t":83.5,"m":976,"r":70},{"t":83.7,"m":866,"r":-40},{"t":83.9,"m":1097,"r":190},{"t":84.1,"m":818,"r":-90},{"t":84.3,"m":959,"r":50},{"t":84.5,"m":1051,"r":140},{"t":84.7,"m":772,"r":-140},{"t":84.9,"m":993,"r":80},
{"t":85.1,"m":854,"r":-60},{"t":85.3,"m":1065,"r":150},{"t":85.5,"m":887,"r":-30},{"t":85.7,"m":1028,"r":110},{"t":85.9,"m":739,"r":-180},{"t":86.1,"m":981,"r":60},{"t":86.3,"m":1093,"r":170},{"t":86.5,"m":825,"r":-100},{"t":86.7,"m":967,"r":40},{"t":86.9,"m":1049,"r":120},
{"t":87.1,"m":811,"r":-120},{"t":87.3,"m":1023,"r":90},{"t":87.5,"m":885,"r":-50},{"t":87.7,"m":1097,"r":160},{"t":87.9,"m":799,"r":-140},{"t":88.1,"m":1002,"r":60},{"t":88.3,"m":1076,"r":130},{"t":88.5,"m":860,"r":-90},{"t":88.7,"m":1003,"r":50}
],
"bg":[
{"t":3,"b":350},{"t":4,"b":400},{"t":5,"b":455},{"t":6,"b":515},{"t":7,"b":575},{"t":8,"b":635},{"t":9,"b":690},{"t":10,"b":750},{"t":11,"b":815},{"t":12,"b":880},{"t":13,"b":940},{"t":14,"b":995},{"t":15,"b":1040},{"t":16,"b":1075},{"t":17,"b":1100},{"t":18,"b":1120},{"t":19,"b":1133},{"t":20,"b":1138},{"t":21,"b":1138},{"t":22,"b":1132},{"t":23,"b":1123},{"t":24,"b":1122},{"t":25,"b":1140},{"t":25.5,"b":1160},{"t":26,"b":1180},{"t":26.5,"b":1195},{"t":27,"b":1190},{"t":27.5,"b":1170},{"t":28,"b":1130},{"t":28.5,"b":1085},{"t":29,"b":1040},{"t":29.5,"b":1015},{"t":30,"b":990},{"t":31,"b":965},{"t":32,"b":960},{"t":33,"b":955},{"t":34,"b":940},{"t":35,"b":920},{"t":36,"b":900},{"t":37,"b":878},{"t":38,"b":858},{"t":39,"b":842},{"t":40,"b":832},{"t":41,"b":827},{"t":42,"b":826},{"t":43,"b":830},{"t":44,"b":838},{"t":45,"b":846},{"t":46,"b":855},{"t":47,"b":862},{"t":48,"b":868},{"t":49,"b":874},{"t":50,"b":878},{"t":52,"b":884},{"t":54,"b":888},{"t":56,"b":889},{"t":58,"b":888},{"t":60,"b":885},{"t":62,"b":882},{"t":64,"b":878},{"t":66,"b":872},{"t":68,"b":866},{"t":70,"b":861},{"t":72,"b":858},{"t":74,"b":856},{"t":76,"b":855},{"t":78,"b":855},{"t":80,"b":856},{"t":82,"b":860},{"t":84,"b":868},{"t":86,"b":880},{"t":88,"b":900},{"t":88.8,"b":915}
],
"peaks":[
{"p":1,"t":23.36,"v":1123},{"p":1,"t":23.68,"v":1142},{"p":1,"t":23.84,"v":1174},{"p":1,"t":23.96,"v":1237},{"p":1,"t":24.06,"v":1311},{"p":1,"t":24.16,"v":1354},{"p":1,"t":24.26,"v":1315},{"p":1,"t":24.36,"v":1243},{"p":1,"t":24.48,"v":1182},{"p":1,"t":24.64,"v":1153},{"p":1,"t":24.96,"v":1139},
{"p":2,"t":25.84,"v":1174},{"p":2,"t":26.12,"v":1222},{"p":2,"t":26.26,"v":1290},{"p":2,"t":26.365,"v":1418},{"p":2,"t":26.45,"v":1564},{"p":2,"t":26.54,"v":1648},{"p":2,"t":26.63,"v":1566},{"p":2,"t":26.715,"v":1421},{"p":2,"t":26.82,"v":1295},{"p":2,"t":26.96,"v":1229},{"p":2,"t":27.24,"v":1180},
{"p":3,"t":26.71,"v":1194},{"p":3,"t":26.99,"v":1226},{"p":3,"t":27.13,"v":1282},{"p":3,"t":27.235,"v":1397},{"p":3,"t":27.32,"v":1531},{"p":3,"t":27.41,"v":1606},{"p":3,"t":27.5,"v":1524},{"p":3,"t":27.585,"v":1377},{"p":3,"t":27.69,"v":1251},{"p":3,"t":27.83,"v":1180},{"p":3,"t":28.11,"v":1120},
{"p":4,"t":30.04,"v":989},{"p":4,"t":30.44,"v":1000},{"p":4,"t":30.64,"v":1030},{"p":4,"t":30.79,"v":1094},{"p":4,"t":30.915,"v":1170},{"p":4,"t":31.04,"v":1213},{"p":4,"t":31.165,"v":1167},{"p":4,"t":31.29,"v":1088},{"p":4,"t":31.44,"v":1019},{"p":4,"t":31.64,"v":983},{"p":4,"t":32.04,"v":960},
{"p":5,"t":32.2,"v":959},{"p":5,"t":32.56,"v":1049},{"p":5,"t":32.74,"v":1206},{"p":5,"t":32.875,"v":1511},{"p":5,"t":32.99,"v":1867},{"p":5,"t":33.1,"v":2066},{"p":5,"t":33.21,"v":1864},{"p":5,"t":33.325,"v":1506},{"p":5,"t":33.46,"v":1198},{"p":5,"t":33.64,"v":1037},{"p":5,"t":34.0,"v":940},
{"p":6,"t":34.6,"v":928},{"p":6,"t":35.0,"v":990},{"p":6,"t":35.2,"v":1105},{"p":6,"t":35.35,"v":1333},{"p":6,"t":35.475,"v":1599},{"p":6,"t":35.6,"v":1748},{"p":6,"t":35.725,"v":1594},{"p":6,"t":35.85,"v":1323},{"p":6,"t":36.0,"v":1089},{"p":6,"t":36.2,"v":966},{"p":6,"t":36.6,"v":887},
{"p":7,"t":39.43,"v":838},{"p":7,"t":40.11,"v":848},{"p":7,"t":40.45,"v":877},{"p":7,"t":40.7,"v":933},{"p":7,"t":40.92,"v":999},{"p":7,"t":41.13,"v":1035},{"p":7,"t":41.34,"v":998},{"p":7,"t":41.56,"v":930},{"p":7,"t":41.81,"v":873},{"p":7,"t":42.15,"v":844},{"p":7,"t":42.83,"v":829},
{"p":8,"t":48.13,"v":869},{"p":8,"t":48.61,"v":886},{"p":8,"t":48.85,"v":910},{"p":8,"t":49.03,"v":957},{"p":8,"t":49.18,"v":1010},{"p":8,"t":49.33,"v":1040},{"p":8,"t":49.48,"v":1011},{"p":8,"t":49.63,"v":960},{"p":8,"t":49.81,"v":914},{"p":8,"t":50.05,"v":892},{"p":8,"t":50.53,"v":880},
{"p":9,"t":52.45,"v":885},{"p":9,"t":53.09,"v":926},{"p":9,"t":53.41,"v":996},{"p":9,"t":53.65,"v":1129},{"p":9,"t":53.85,"v":1285},{"p":9,"t":54.05,"v":1372},{"p":9,"t":54.25,"v":1285},{"p":9,"t":54.45,"v":1130},{"p":9,"t":54.69,"v":997},{"p":9,"t":55.01,"v":928},{"p":9,"t":55.65,"v":888},
{"p":10,"t":61.2,"v":883},{"p":10,"t":61.68,"v":900},{"p":10,"t":61.92,"v":929},{"p":10,"t":62.1,"v":988},{"p":10,"t":62.25,"v":1055},{"p":10,"t":62.4,"v":1092},{"p":10,"t":62.55,"v":1054},{"p":10,"t":62.7,"v":986},{"p":10,"t":62.88,"v":927},{"p":10,"t":63.12,"v":898},{"p":10,"t":63.6,"v":879},
{"p":11,"t":63.04,"v":880},{"p":11,"t":63.76,"v":894},{"p":11,"t":64.12,"v":920},{"p":11,"t":64.39,"v":972},{"p":11,"t":64.615,"v":1032},{"p":11,"t":64.84,"v":1066},{"p":11,"t":65.065,"v":1031},{"p":11,"t":65.29,"v":970},{"p":11,"t":65.56,"v":917},{"p":11,"t":65.92,"v":889},{"p":11,"t":66.64,"v":870},
{"p":12,"t":74.6,"v":856},{"p":12,"t":74.85,"v":866},{"p":12,"t":75.0,"v":881},{"p":12,"t":75.15,"v":866},{"p":12,"t":75.4,"v":855}
],
"sticks":[
{"p":1,"t":24.16,"b":1125,"v":1354},{"p":2,"t":26.54,"b":1195,"v":1648},{"p":3,"t":27.41,"b":1174,"v":1606},{"p":4,"t":31.04,"b":965,"v":1213},{"p":5,"t":33.1,"b":954,"v":2066},{"p":6,"t":35.6,"b":908,"v":1748},{"p":7,"t":41.13,"b":827,"v":1035},{"p":8,"t":49.33,"b":875,"v":1040},{"p":9,"t":54.05,"b":888,"v":1372},{"p":10,"t":62.4,"b":881,"v":1092},{"p":11,"t":64.84,"b":876,"v":1066},{"p":12,"t":75.0,"b":845,"v":881}
],
"labels":[
{"lab":"[1]","t":24.2,"v":1556},{"lab":"[2]","t":26.6,"v":1806},{"lab":"[3]","t":27.55,"v":1934},{"lab":"[4]","t":31.15,"v":1388},{"lab":"[5]","t":33.25,"v":2072},{"lab":"[6]","t":35.5,"v":1785},{"lab":"[7]","t":41.25,"v":1239},{"lab":"[8]","t":49.4,"v":1264},{"lab":"[9]","t":54.1,"v":1491},{"lab":"[10]","t":62.5,"v":1294},{"lab":"[11]","t":64.95,"v":1264},{"lab":"[12]","t":75.2,"v":1158}
],
"err":[
{"t":3,"up":60,"lo":-56},{"t":5,"up":65,"lo":-62},{"t":7,"up":70,"lo":-67},{"t":9,"up":74,"lo":-70},{"t":11,"up":77,"lo":-74},{"t":13,"up":80,"lo":-78},{"t":15,"up":83,"lo":-81},{"t":17,"up":85,"lo":-83},{"t":20,"up":86,"lo":-85},{"t":23,"up":87,"lo":-86},{"t":24.2,"up":92,"lo":-91},{"t":25,"up":88,"lo":-88},{"t":26.6,"up":100,"lo":-100},{"t":27.4,"up":100,"lo":-100},{"t":28.4,"up":89,"lo":-89},{"t":30,"up":86,"lo":-86},{"t":31,"up":92,"lo":-92},{"t":32,"up":86,"lo":-86},{"t":32.7,"up":92,"lo":-92},{"t":33.1,"up":122,"lo":-122},{"t":33.5,"up":92,"lo":-92},{"t":35.1,"up":90,"lo":-90},{"t":35.6,"up":112,"lo":-112},{"t":36.2,"up":90,"lo":-90},{"t":38,"up":85,"lo":-86},{"t":40,"up":85,"lo":-86},{"t":41.1,"up":91,"lo":-91},{"t":42.5,"up":85,"lo":-86},{"t":48,"up":85,"lo":-86},{"t":49.3,"up":89,"lo":-89},{"t":50.5,"up":85,"lo":-86},{"t":53,"up":87,"lo":-87},{"t":54,"up":98,"lo":-98},{"t":55.2,"up":87,"lo":-87},{"t":60,"up":86,"lo":-87},{"t":62.4,"up":91,"lo":-91},{"t":63.5,"up":86,"lo":-87},{"t":64.8,"up":90,"lo":-90},{"t":66.5,"up":87,"lo":-88},{"t":75,"up":87,"lo":-88},{"t":80,"up":88,"lo":-89},{"t":85,"up":89,"lo":-90},{"t":88.8,"up":91,"lo":-92}
]
},
"vconcat":[
{"width":820,"height":414,
"layer":[
{"data":{"name":"xrd"},"mark":{"type":"line","strokeWidth":1.4,"clip":true},
"encoding":{"x":{"field":"t","type":"quantitative","scale":{"domain":[3,88.9],"nice":false,"zero":false},"axis":null},
"y":{"field":"m","type":"quantitative","title":"Intensity (cps)","scale":{"domain":[0,2540],"nice":false},"axis":{"values":[0,500,1000,1500,2000,2500],"format":"d","labelFlush":10,"titlePadding":47}},
"color":{"datum":"Meas. data:IL_800","type":"nominal","scale":{"domain":["Meas. data:IL_800","BG data:IL_800","Calc. data:IL_800","Error","Residual"],"range":["#ff0000","#1f8f1f","#0000ff","#888888","#ff00ff"]},
"legend":{"orient":"none","legendX":574,"legendY":17.5,"title":null,"symbolType":"stroke","symbolSize":484,"symbolStrokeWidth":2,"symbolOffset":196,"labelOffset":-196,"rowPadding":4.5,"labelFontSize":18,"labelFont":"Liberation Sans","labelColor":"#000","labelLimit":300,"padding":0}}}},
{"data":{"name":"bg"},"mark":{"type":"line","strokeWidth":2,"interpolate":"monotone","clip":true},
"encoding":{"x":{"field":"t","type":"quantitative","scale":{"domain":[3,88.9],"nice":false,"zero":false},"axis":null},
"y":{"field":"b","type":"quantitative","title":"Intensity (cps)"},
"color":{"datum":"BG data:IL_800","type":"nominal"}}},
{"data":{"name":"xrd"},"mark":{"type":"line","strokeWidth":1.6,"color":"#b8b8b8","opacity":0.85,"clip":true,"invalid":"filter"},
"transform":[{"filter":"isValid(datum.c)"}],
"encoding":{"x":{"field":"t","type":"quantitative","scale":{"domain":[3,88.9],"nice":false,"zero":false},"axis":null},
"y":{"field":"c","type":"quantitative","title":"Intensity (cps)"}}},
{"data":{"name":"peaks"},"mark":{"type":"line","strokeWidth":1.1,"interpolate":"monotone","clip":true},
"encoding":{"x":{"field":"t","type":"quantitative","scale":{"domain":[3,88.9],"nice":false,"zero":false},"axis":null},
"y":{"field":"v","type":"quantitative","title":"Intensity (cps)"},
"detail":{"field":"p","type":"nominal"},
"color":{"datum":"Calc. data:IL_800","type":"nominal"}}},
{"data":{"name":"sticks"},"mark":{"type":"rule","strokeWidth":1.1,"clip":true},
"encoding":{"x":{"field":"t","type":"quantitative","scale":{"domain":[3,88.9],"nice":false,"zero":false},"axis":null},
"y":{"field":"b","type":"quantitative","title":"Intensity (cps)"},"y2":{"field":"v"},
"color":{"datum":"Calc. data:IL_800","type":"nominal"}}},
{"data":{"name":"labels"},"mark":{"type":"text","angle":270,"align":"left","baseline":"middle","fontSize":18,"font":"Liberation Sans","color":"#2222ff"},
"encoding":{"x":{"field":"t","type":"quantitative","scale":{"domain":[3,88.9],"nice":false,"zero":false},"axis":null},
"y":{"field":"v","type":"quantitative","title":"Intensity (cps)"},"text":{"field":"lab"}}}
]},
{"width":820,"height":176,"view":{"fill":"#f7f8fc"},
"layer":[
{"data":{"name":"xrd"},"mark":{"type":"line","strokeWidth":1.4,"color":"#ff00ff","clip":true},
"encoding":{"x":{"field":"t","type":"quantitative","title":"2-theta (deg)","scale":{"domain":[3,88.9],"nice":false,"zero":false},"axis":{"values":[20,40,60,80],"tickColor":"#808080","tickSize":8,"tickWidth":1.5,"labelFlush":false,"titlePadding":12}},
"y":{"field":"r","type":"quantitative","title":"Intensity (cps)","scale":{"domain":[-421,421],"nice":false},"axis":{"values":[-400,-200,0,200,400],"labelExpr":"'' + datum.value","labelFlush":10,"titlePadding":54.5}}}},
{"data":{"name":"err"},"mark":{"type":"line","strokeWidth":2,"color":"#888888","interpolate":"monotone","clip":true},
"encoding":{"x":{"field":"t","type":"quantitative","title":"2-theta (deg)"},"y":{"field":"up","type":"quantitative","title":"Intensity (cps)"}}},
{"data":{"name":"err"},"mark":{"type":"line","strokeWidth":2,"color":"#888888","interpolate":"monotone","clip":true},
"encoding":{"x":{"field":"t","type":"quantitative","title":"2-theta (deg)"},"y":{"field":"lo","type":"quantitative","title":"Intensity (cps)"}}}
]}
]
}
